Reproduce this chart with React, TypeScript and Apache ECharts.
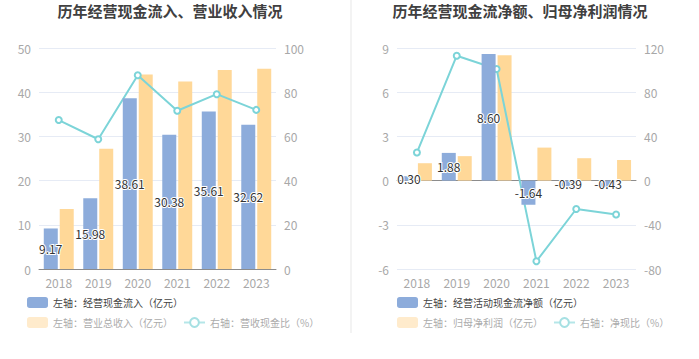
import React, { useEffect, useRef } from "react";
import * as echarts from "echarts";

const years = ["2018", "2019", "2020", "2021", "2022", "2023"];
// Left chart
const cashInflow = [9.17, 15.98, 38.61, 30.38, 35.61, 32.62];
const revenue = [13.6, 27.2, 44.0, 42.4, 45.0, 45.3];
const cashRevenueRatio = [67.4, 58.7, 87.7, 71.6, 79.1, 72.0];
// Right chart
const netCashFlow = [0.3, 1.88, 8.6, -1.64, -0.39, -0.43];
const netProfit = [1.18, 1.66, 8.5, 2.24, 1.52, 1.4];
const netCashRatio = [25.4, 113.0, 101.0, -73.0, -25.7, -30.7];

const titles = ["历年经营现金流入、营业收入情况", "历年经营现金流净额、归母净利润情况"];
const leftNames = ["左轴：经营现金流入（亿元）", "左轴：营业总收入（亿元）", "右轴：营收现金比（%）"];
const rightNames = ["左轴：经营活动现金流净额（亿元）", "左轴：归母净利润（亿元）", "右轴：净现比（%）"];

const BLUE = "#8DACDB";
const YELLOW = "#FFD898";
const CYAN = "#7CD4D8";
const FONT = "'Noto Sans CJK SC', 'Noto Sans', sans-serif";

export default function App() {
  const ref = useRef<HTMLDivElement>(null);
  useEffect(() => {
    document.body.style.margin = "0";
    const chart = echarts.init(ref.current!, null, { renderer: "svg" });
    const axisLabel = { color: "#A8A8A8", fontSize: 12, fontFamily: FONT };
    const splitLine = { show: true, lineStyle: { color: "#E6EBF5", width: 1 } };
    const barLabel = {
      show: true,
      position: "inside",
      color: "#333",
      fontSize: 12,
      fontFamily: FONT,
      textBorderColor: "#fff",
      textBorderWidth: 2,
      formatter: (p: any) => p.value.toFixed(2),
    };
    const legendText = (dark: boolean) => ({
      color: dark ? "#444" : "#ABABAB",
      fontSize: 10,
      fontFamily: FONT,
    });
    const makeLegends = (names: string[], left: number) => [
      {
        left,
        top: 297,
        width: 340,
        padding: 0,
        itemWidth: 21,
        itemHeight: 11,
        itemGap: 10,
        data: [{ name: names[0], itemStyle: { color: BLUE }, textStyle: legendText(true) }],
        selectedMode: false,
      },
      {
        left,
        top: 317,
        width: 340,
        padding: 0,
        itemWidth: 21,
        itemHeight: 11,
        itemGap: 10,
        selectedMode: false,
        data: [
          { name: names[1], itemStyle: { color: "#FFEBCC" }, textStyle: legendText(false) },
          {
            name: names[2],
            itemStyle: { color: "#A6E0E3", borderColor: "#A6E0E3", borderWidth: 1.5 },
            lineStyle: { color: "#B5E6E8", width: 2, type: "solid" },
            textStyle: legendText(false),
          },
        ],
      },
    ];
    const option: any = {
      animation: false,
      title: [
        {
          text: titles[0],
          left: 170,
          textAlign: "center",
          top: 3,
          padding: 0,
          textStyle: { fontSize: 15, fontWeight: "bold", color: "#404040", fontFamily: FONT },
        },
        {
          text: titles[1],
          left: 520,
          textAlign: "center",
          top: 3,
          padding: 0,
          textStyle: { fontSize: 15, fontWeight: "bold", color: "#404040", fontFamily: FONT },
        },
      ],
      legend: [...makeLegends(leftNames, 27), ...makeLegends(rightNames, 397)],
      graphic: [
        {
          type: "line",
          shape: { x1: 351, y1: 0, x2: 351, y2: 333 },
          style: { stroke: "#EFEFEF", lineWidth: 1.5 },
        },
      ],
      grid: [
        { left: 39, width: 237, top: 48, height: 221 },
        { left: 397, width: 239, top: 48, height: 221 },
      ],
      xAxis: [
        {
          type: "category",
          gridIndex: 0,
          data: years,
          axisLine: { lineStyle: { color: "#8C8C8C" } },
          axisTick: { alignWithLabel: true, lineStyle: { color: "#8C8C8C" }, length: 4 },
          axisLabel: { ...axisLabel, margin: 7 },
        },
        {
          type: "category",
          gridIndex: 1,
          data: years,
          axisLine: { show: false, onZero: false },
          axisTick: { show: false },
          axisLabel: { ...axisLabel, margin: 7 },
        },
        {
          type: "category",
          gridIndex: 1,
          data: years,
          axisLine: { onZero: true, lineStyle: { color: "#8C8C8C" } },
          axisTick: { alignWithLabel: true, lineStyle: { color: "#8C8C8C" }, length: 4 },
          axisLabel: { show: false },
        },
      ],
      yAxis: [
        {
          type: "value",
          gridIndex: 0,
          min: 0,
          max: 50,
          interval: 10,
          axisLine: { show: false },
          axisTick: { show: false },
          axisLabel: { ...axisLabel, margin: 8 },
          splitLine,
        },
        {
          type: "value",
          gridIndex: 0,
          min: 0,
          max: 100,
          interval: 20,
          axisLine: { show: false },
          axisTick: { show: false },
          axisLabel: { ...axisLabel, margin: 8 },
          splitLine: { show: false },
        },
        {
          type: "value",
          gridIndex: 1,
          min: -6,
          max: 9,
          interval: 3,
          axisLine: { show: false },
          axisTick: { show: false },
          axisLabel: { ...axisLabel, margin: 8 },
          splitLine,
        },
        {
          type: "value",
          gridIndex: 1,
          min: -80,
          max: 120,
          interval: 40,
          axisLine: { show: false },
          axisTick: { show: false },
          axisLabel: { ...axisLabel, margin: 8 },
          splitLine: { show: false },
        },
      ],
      series: [
        {
          name: leftNames[0],
          type: "bar",
          xAxisIndex: 0,
          yAxisIndex: 0,
          data: cashInflow,
          barWidth: 14,
          barGap: "14%",
          itemStyle: { color: BLUE },
          label: barLabel,
          z: 3,
        },
        {
          name: leftNames[1],
          type: "bar",
          xAxisIndex: 0,
          yAxisIndex: 0,
          data: revenue,
          barWidth: 14,
          barGap: "14%",
          itemStyle: { color: YELLOW },
        },
        {
          name: leftNames[2],
          type: "line",
          xAxisIndex: 0,
          yAxisIndex: 1,
          data: cashRevenueRatio,
          symbol: "emptyCircle",
          symbolSize: 6,
          lineStyle: { color: CYAN, width: 2 },
          itemStyle: { color: CYAN, borderWidth: 1.5 },
          z: 2,
        },
        {
          name: rightNames[0],
          type: "bar",
          xAxisIndex: 1,
          yAxisIndex: 2,
          data: netCashFlow,
          barWidth: 14,
          barGap: "14%",
          itemStyle: { color: BLUE },
          label: barLabel,
          z: 3,
        },
        {
          name: rightNames[1],
          type: "bar",
          xAxisIndex: 1,
          yAxisIndex: 2,
          data: netProfit,
          barWidth: 14,
          barGap: "14%",
          itemStyle: { color: YELLOW },
        },
        {
          name: rightNames[2],
          type: "line",
          xAxisIndex: 1,
          yAxisIndex: 3,
          data: netCashRatio,
          symbol: "emptyCircle",
          symbolSize: 6,
          lineStyle: { color: CYAN, width: 2 },
          itemStyle: { color: CYAN, borderWidth: 1.5 },
          z: 2,
        },
      ],
    };
    chart.setOption(option);
    return () => chart.dispose();
  }, []);
  return <div ref={ref} style={{ width: 699, height: 359 }} />;
}
